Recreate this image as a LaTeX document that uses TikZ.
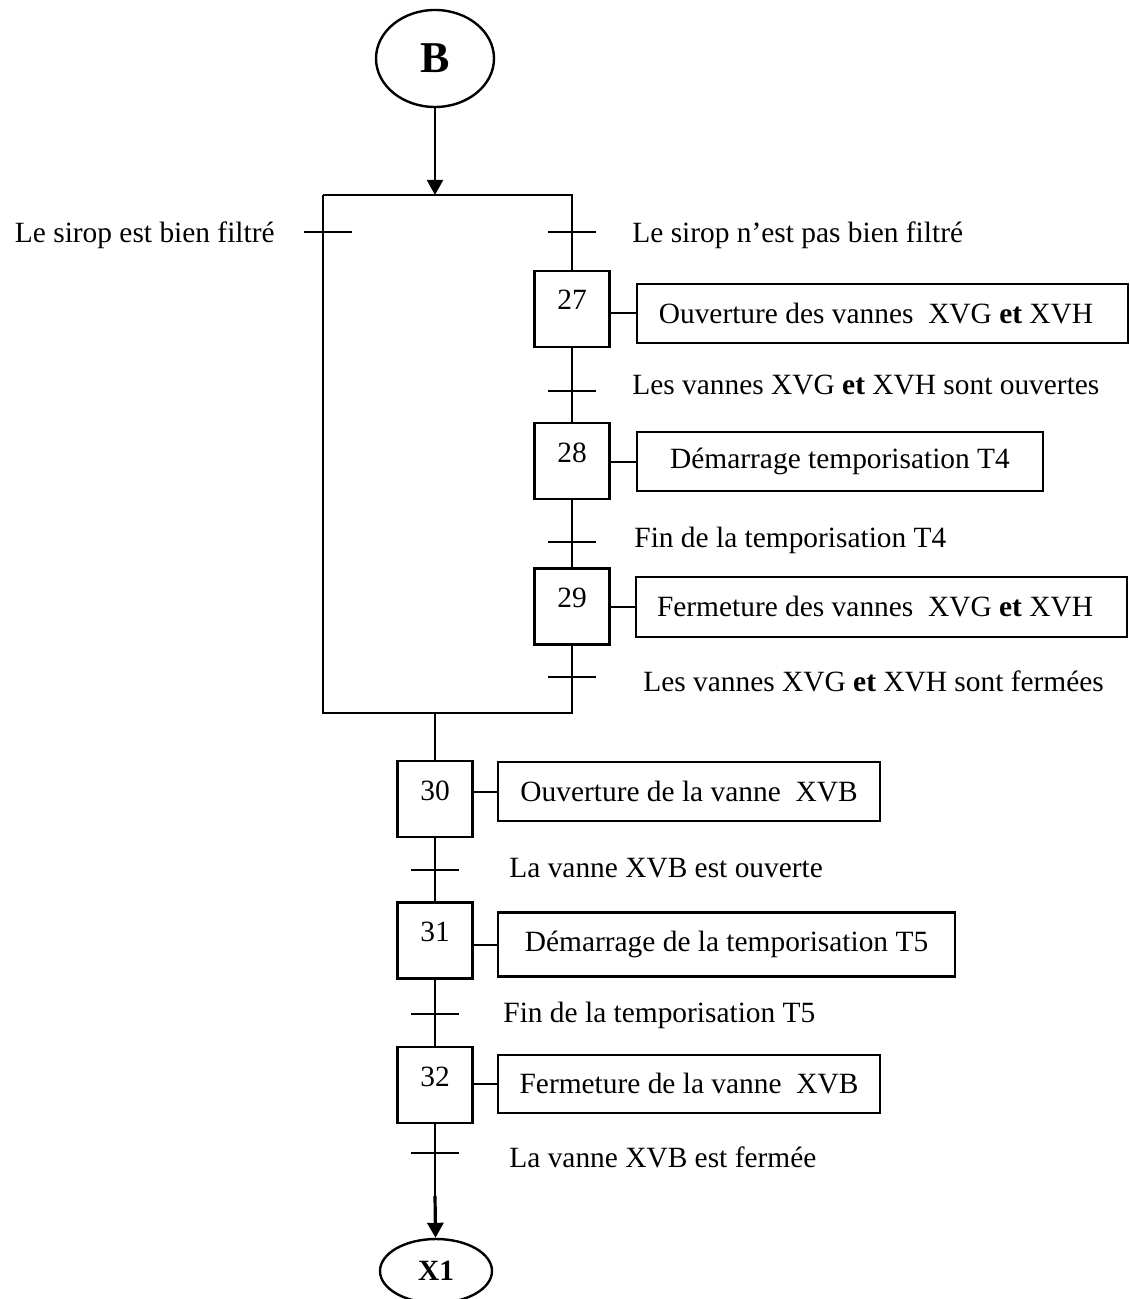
\documentclass[tikz,border=0pt]{standalone}
\usepackage{fontspec}
\setmainfont{Liberation Serif}
\usetikzlibrary{shapes.geometric,arrows.meta}

\begin{document}
\begin{tikzpicture}[x=0.5pt,y=-0.5pt,
  every node/.style={font=\fontsize{14.7}{17}\selectfont},
  link/.style={line width=1pt},
  tip/.style={-{Triangle[length=7.5pt,width=8pt]}},
  stepbox/.style={draw, line width=1.35pt, minimum width=37.5pt, minimum height=38pt,
                  inner sep=0pt, text height=19.5pt, text depth=18.5pt},
  actbox/.style={draw, line width=1.35pt, inner sep=0pt},
  lbl/.style={anchor=base west, inner sep=0pt},
  term/.style={draw, ellipse, line width=1.2pt, inner sep=0pt}]

\useasboundingbox (0,0) rectangle (1129,1299);

% entry and exit connectors
\node[term, minimum width=59pt, minimum height=48.5pt,
      font=\fontsize{22}{26}\selectfont\bfseries] (B) at (435,58.5) {B};
\node[term, minimum width=56pt, minimum height=32pt,
      font=\fontsize{14.7}{17}\selectfont\bfseries] (X1) at (436,1271) {X1};

% steps
\node[stepbox] (S27) at (572,309) {27};
\node[stepbox] (S28) at (572,461) {28};
\node[stepbox] (S29) at (572,606.5) {29};
\node[stepbox] (S30) at (435,799) {30};
\node[stepbox] (S31) at (435,940.5) {31};
\node[stepbox] (S32) at (435,1085) {32};

% actions
\node[actbox, minimum width=245.5pt, minimum height=29.5pt] (A27) at (882.5,313.5)
  {Ouverture des vannes\ \ XVG \textbf{et} XVH\hspace*{6.5pt}};
\node[actbox, minimum width=203pt, minimum height=29.5pt] (A28) at (840,461.5)
  {Démarrage temporisation T4};
\node[actbox, minimum width=245.5pt, minimum height=30pt] (A29) at (881.5,607)
  {Fermeture des vannes\ \ XVG \textbf{et} XVH\hspace*{6.5pt}};
\node[actbox, minimum width=191pt, minimum height=29.5pt] (A30) at (689,791.5)
  {Ouverture de la vanne\ \ XVB};
\node[actbox, minimum width=228.5pt, minimum height=32pt] (A31) at (726.5,944.5)
  {Démarrage de la temporisation T5};
\node[actbox, minimum width=191pt, minimum height=29pt] (A32) at (689,1084)
  {Fermeture de la vanne\ \ XVB};

% branch frame and transition points
\coordinate (jt) at (435,195);
\coordinate (ctl) at (323,195);
\coordinate (ctr) at (572,195);
\coordinate (cbl) at (323,713);
\coordinate (cbr) at (572,713);
\coordinate (jb) at (435,713);
\coordinate (aX) at (435,1196);

\coordinate (tL) at (328,232);
\coordinate (tR0) at (572,232);
\coordinate (tR1) at (572,391);
\coordinate (tR2) at (572,542);
\coordinate (tR3) at (572,677);
\coordinate (tM1) at (435,870);
\coordinate (tM2) at (435,1014);
\coordinate (tM3) at (435,1153);

% connectors
\draw[link, tip] (B) -- (jt);
\draw[link] (ctl) -- (ctr) -- (S27);
\draw[link] (S27) -- (S28);
\draw[link] (S28) -- (S29);
\draw[link] (S29) -- (cbr) -- (cbl) -- (ctl);
\draw[link] (jb) -- (S30);
\draw[link] (S30) -- (S31);
\draw[link] (S31) -- (S32);
\draw[link] (S32) -- (aX);
\draw[line width=1.6pt, tip] (aX) -- (X1);

\foreach \s in {27,28,29,30,31,32}
  \draw[link] (S\s.east |- A\s.west) -- (A\s.west);

% transitions
\foreach \t in {tL,tR0,tR1,tR2,tR3,tM1,tM2,tM3}
  \draw[link] ([xshift=-12pt]\t) -- ([xshift=12pt]\t);

% receptivities
\node[anchor=base east, inner sep=0pt] (r0) at (275,243) {Le sirop est bien filtré};
\node[lbl] (r1) at (632,243) {Le sirop n’est pas bien filtré};
\node[lbl] (r2) at (632,394) {Les vannes XVG \textbf{et} XVH sont ouvertes};
\node[lbl] (r3) at (634,547) {Fin de la temporisation T4};
\node[lbl] (r4) at (643,691) {Les vannes XVG \textbf{et} XVH sont fermées};
\node[lbl] (r5) at (509,877) {La vanne XVB est ouverte};
\node[lbl] (r6) at (503,1022) {Fin de la temporisation T5};
\node[lbl] (r7) at (509,1167) {La vanne XVB est fermée};

\end{tikzpicture}
\end{document}
